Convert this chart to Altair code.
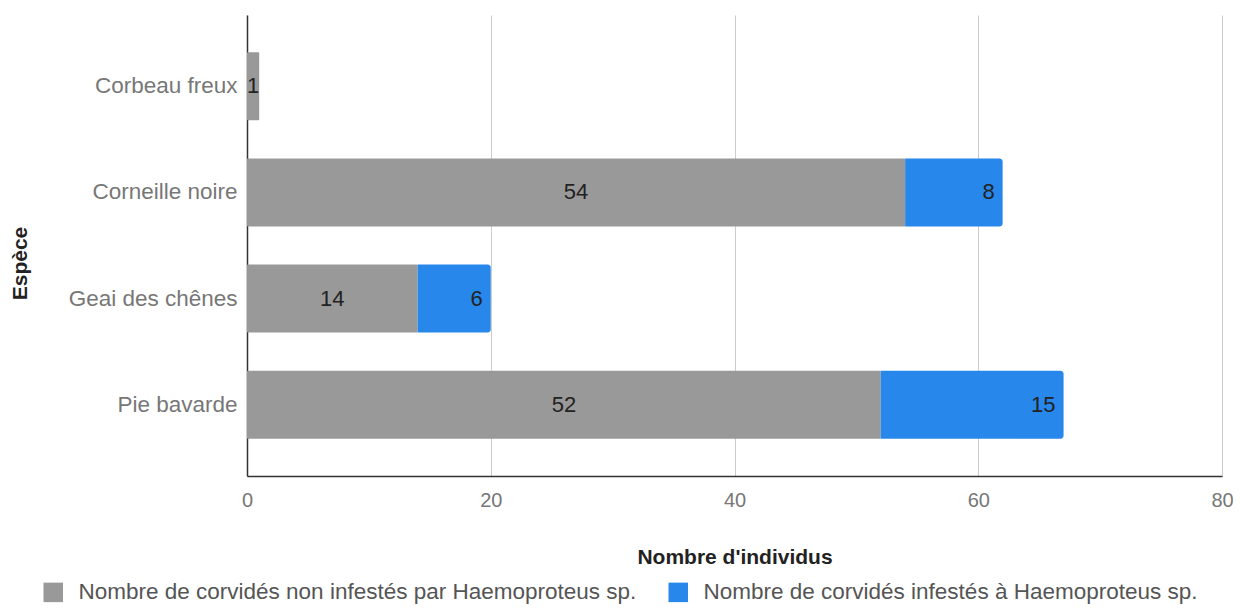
import altair as alt
import pandas as pd

species = ["Corbeau freux", "Corneille noire", "Geai des chênes", "Pie bavarde"]
non_infested = [1, 54, 14, 52]
infested = [0, 8, 6, 15]
series_names = [
    "Nombre de corvidés non infestés par Haemoproteus sp.",
    "Nombre de corvidés infestés à Haemoproteus sp.",
]
colors = ["#999999", "#2787ea"]
x_ticks = [0, 20, 40, 60, 80]

rows = []
for i, s in enumerate(species):
    for k, vals in enumerate([non_infested, infested]):
        rows.append({"species": s, "series": series_names[k], "order": k, "value": vals[i]})
df = pd.DataFrame(rows)

FONT = "Liberation Sans"

base = alt.Chart(df).transform_stack(
    stack="value", groupby=["species"], sort=[alt.SortField("order")], as_=["x0", "x1"]
).transform_calculate(mid="(datum.x0 + datum.x1) / 2")

y_enc = alt.Y(
    "species:N",
    sort=species,
    scale=alt.Scale(paddingInner=0.36, paddingOuter=0.35),
    axis=alt.Axis(
        title="Espèce", grid=False, ticks=False, labelPadding=10, titlePadding=38,
        titleY=248, labelFontSize=22.5,
    ),
)
x_enc = alt.X(
    "x0:Q",
    scale=alt.Scale(domain=[0, 80], nice=False),
    axis=alt.Axis(
        values=x_ticks, title="Nombre d'individus", grid=True, ticks=False,
        labelPadding=14, titlePadding=36, labelFlush=False,
    ),
)
color_enc = alt.Color(
    "series:N",
    scale=alt.Scale(domain=series_names, range=colors),
    legend=alt.Legend(
        orient="none", legendX=-205, legendY=566, direction="horizontal", title=None,
        symbolType="square", symbolSize=380, symbolStrokeWidth=0, labelFontSize=22.5,
        labelColor="#555555", labelFont=FONT, labelOffset=14, columnPadding=30,
        padding=0, labelLimit=800,
    ),
)

bars_gray = base.transform_filter("datum.order == 0").mark_bar(cornerRadius=1).encode(
    y=y_enc, x=x_enc, x2="x1:Q", color=color_enc
)
bars_blue = base.transform_filter("datum.order == 1").mark_bar(
    cornerRadiusTopRight=3, cornerRadiusBottomRight=3
).encode(y=y_enc, x=x_enc, x2="x1:Q", color=color_enc)

text_gray = base.transform_filter("datum.order == 0 && datum.value > 0").mark_text(
    font=FONT, fontSize=22, color="#222222", align="center", baseline="middle"
).encode(y=alt.Y("species:N", sort=species), x=alt.X("mid:Q"), text="value:Q")

text_blue = base.transform_filter("datum.order == 1 && datum.value > 0").mark_text(
    font=FONT, fontSize=22, color="#222222", align="right", baseline="middle", dx=-8
).encode(y=alt.Y("species:N", sort=species), x=alt.X("x1:Q"), text="value:Q")

chart = alt.layer(bars_gray, bars_blue, text_gray, text_blue).properties(
    width=975,
    height=461,
    autosize=alt.AutoSizeParams(type="none"),
    padding={"left": 239, "top": 7, "right": 11, "bottom": 129},
).configure_view(stroke=None).configure_axis(
    labelFont=FONT, labelFontSize=20, labelColor="#777777",
    titleFont=FONT, titleFontSize=21, titleFontWeight="bold", titleColor="#222222",
    domainColor="#333333", domainWidth=1.5, gridColor="#cccccc", gridWidth=1,
)

chart.save("out.html", embed_options={"renderer": "svg", "actions": False})
